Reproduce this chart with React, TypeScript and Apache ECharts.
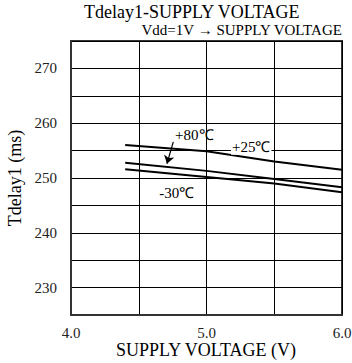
import React, { useEffect, useRef } from "react";
import * as echarts from "echarts";

const voltages = [4.4, 5.0, 5.5, 6.0];
const t25 = [256.0, 254.9, 253.0, 251.5];
const t80 = [252.8, 251.3, 249.8, 248.3];
const tm30 = [251.6, 250.2, 249.0, 247.4];
const seriesNames = ["+25℃", "+80℃", "-30℃"];
const xTickLabels = ["4.0", "5.0", "6.0"];
const yTickLabels = [230, 240, 250, 260, 270];
const xAxisName = "SUPPLY VOLTAGE (V)";

const FONT = "Liberation Serif";

export default function App() {
  const ref = useRef<HTMLDivElement>(null);
  useEffect(() => {
    if (!ref.current) return;
    const chart = echarts.init(ref.current, undefined, { renderer: "svg" });
    const mk = (ys: number[]) => voltages.map((v, i) => [v, ys[i]]);
    const lineStyle = { color: "#000", width: 2 };
    const annLabel = (text: string, bg?: string) => ({
      show: true, position: "inside", formatter: text,
      fontFamily: FONT, fontSize: 15, color: "#000",
      backgroundColor: bg || "transparent", padding: [0, 1],
    });
    chart.setOption({
      animation: false,
      backgroundColor: "#fff",
      textStyle: { fontFamily: FONT },
      grid: {
        left: 71, right: 10, top: 41, bottom: 48, show: true, borderColor: "#333", borderWidth: 2,
        containLabel: false, outerBoundsMode: "none",
      },
      graphic: [
        { type: "text", left: 84, top: 3, style: { text: "Tdelay1-SUPPLY VOLTAGE", fontFamily: FONT, fontSize: 18, lineHeight: 17, fill: "#000" } },
        { type: "text", right: 9, top: 22, style: { text: "Vdd=1V → SUPPLY VOLTAGE", fontFamily: FONT, fontSize: 15, lineHeight: 14, fill: "#000" } },
        { type: "text", x: 206, y: 350, style: { text: xAxisName, fontFamily: FONT, fontSize: 18, lineHeight: 15, fill: "#000", align: "center", verticalAlign: "middle" } },
      ],
      xAxis: {
        type: "value", min: 4, max: 6, interval: 0.5,
        axisLine: { show: true, lineStyle: { color: "#333", width: 2 } },
        axisTick: { show: false },
        splitLine: { show: true, lineStyle: { color: "#000", width: 1 } },
        axisLabel: {
          fontFamily: FONT, fontSize: 15, lineHeight: 14, color: "#222", margin: 11,
          formatter: (v: number) => { const s = v.toFixed(1); return xTickLabels.includes(s) ? s : ""; },
        },
      },
      yAxis: {
        type: "value", min: 225, max: 275, interval: 5,
        name: "Tdelay1 (ms)", nameLocation: "middle", nameGap: 45,
        nameTextStyle: { fontFamily: FONT, fontSize: 18, color: "#000" },
        axisLine: { show: true, lineStyle: { color: "#333", width: 2 } },
        axisTick: { show: false },
        splitLine: { show: true, lineStyle: { color: "#000", width: 1 } },
        axisLabel: {
          fontFamily: FONT, fontSize: 15, color: "#222", margin: 14,
          formatter: (v: number) => (yTickLabels.includes(v) ? String(v) : ""),
        },
      },
      series: [
        {
          name: seriesNames[0], type: "line", data: mk(t25), symbol: "none", lineStyle,
          markPoint: {
            symbol: "circle", symbolSize: 1, itemStyle: { color: "transparent" },
            data: [{ coord: [5.33, 255.6] }],
            label: annLabel(seriesNames[0], "#fff"),
          },
        },
        {
          name: seriesNames[1], type: "line", data: mk(t80), symbol: "none", lineStyle,
          markPoint: {
            symbol: "circle", symbolSize: 1, itemStyle: { color: "transparent" },
            data: [{ coord: [4.91, 257.8] }],
            label: annLabel(seriesNames[1]),
          },
          markLine: {
            silent: true, symbol: ["none", "arrow"], symbolSize: 8,
            lineStyle: { color: "#000", width: 1.2, type: "solid" },
            label: { show: false },
            data: [[{ coord: [4.755, 256.6] }, { coord: [4.708, 252.6] }]],
          },
        },
        {
          name: seriesNames[2], type: "line", data: mk(tm30), symbol: "none", lineStyle,
          markPoint: {
            symbol: "circle", symbolSize: 1, itemStyle: { color: "transparent" },
            data: [{ coord: [4.78, 247.2] }],
            label: annLabel(seriesNames[2]),
          },
        },
      ],
    });
    return () => chart.dispose();
  }, []);
  return <div ref={ref} style={{ position: "fixed", left: 0, top: 0, width: 352, height: 363 }} />;
}
